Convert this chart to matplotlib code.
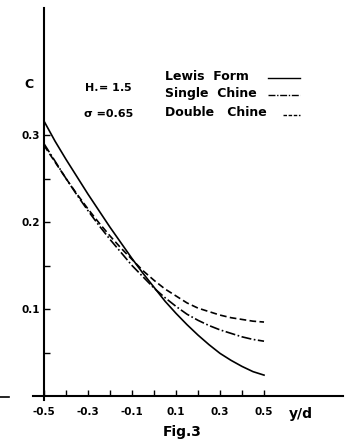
import matplotlib
matplotlib.use("Agg")
import matplotlib.pyplot as plt
from matplotlib.lines import Line2D

x_vals = [-0.5, -0.45, -0.4, -0.35, -0.3, -0.25, -0.2, -0.15, -0.1, -0.05, 0.0,
          0.05, 0.1, 0.15, 0.2, 0.25, 0.3, 0.35, 0.4, 0.45, 0.5]
lewis_form = [0.316, 0.293, 0.272, 0.252, 0.232, 0.213, 0.194, 0.176, 0.158, 0.141, 0.125,
              0.109, 0.095, 0.082, 0.070, 0.059, 0.049, 0.041, 0.034, 0.028, 0.024]
single_chine = [0.290, 0.270, 0.250, 0.231, 0.213, 0.196, 0.180, 0.165, 0.150, 0.137, 0.124,
                0.113, 0.103, 0.094, 0.087, 0.081, 0.076, 0.072, 0.068, 0.065, 0.063]
double_chine = [0.288, 0.269, 0.250, 0.232, 0.215, 0.199, 0.184, 0.170, 0.157, 0.144, 0.133,
                0.123, 0.115, 0.107, 0.101, 0.097, 0.093, 0.090, 0.088, 0.086, 0.085]

x_major = [-0.5, -0.3, -0.1, 0.1, 0.3, 0.5]
x_major_labels = ["-0.5", "-0.3", "-0.1", "0.1", "0.3", "0.5"]
x_minor = [-0.4, -0.2, 0.0, 0.2, 0.4]
y_major = [0.1, 0.2, 0.3]
y_major_labels = ["0.1", "0.2", "0.3"]
y_minor = [0.05, 0.15, 0.25]

W, H = 355, 447
fig = plt.figure(figsize=(W / 100, H / 100), dpi=100)
ax = fig.add_axes([33 / W, 47 / H, (343 - 33) / W, (400 - 8) / H])

ax.set_xlim(-0.55, 0.859)
ax.set_ylim(-0.0046, 0.446)

lw = 1.2
ax.plot(x_vals, lewis_form, color="black", lw=lw)
ax.plot(x_vals, single_chine, color="black", lw=lw, dashes=(6, 1.5, 1, 1.5))
ax.plot(x_vals, double_chine, color="black", lw=lw, dashes=(4, 2))

for s in ["top", "right"]:
    ax.spines[s].set_visible(False)
ax.spines["left"].set_position(("data", -0.5))
ax.spines["bottom"].set_position(("data", 0.0))
ax.spines["left"].set_linewidth(1.5)
ax.spines["bottom"].set_linewidth(1.5)

ax.set_xticks(x_major)
ax.set_xticklabels(x_major_labels)
ax.set_xticks(x_minor, minor=True)
ax.set_yticks(y_major)
ax.set_yticklabels(y_major_labels)
ax.set_yticks(y_minor, minor=True)
ax.tick_params(axis="both", which="both", direction="in", width=1.0,
               labelsize=7.5, length=4)
ax.tick_params(axis="x", pad=8)
ax.tick_params(axis="y", pad=3)
for lab in ax.get_xticklabels() + ax.get_yticklabels():
    lab.set_fontweight("bold")

# annotations
fig.text(29 / W, 1 - 85 / H, "C", ha="center", va="center", fontsize=9, fontweight="bold")
fig.text(84 / W, 1 - 87 / H, r"H$_{\bullet}$= 1.5", ha="left", va="center",
         fontsize=8, fontweight="bold")
fig.text(84 / W, 1 - 114 / H, "σ =0.65", ha="left", va="center",
         fontsize=8, fontweight="bold")

labels = ["Lewis  Form", "Single  Chine", "Double   Chine"]
ys = [76, 93, 113]
styles = [dict(), dict(dashes=(5, 1.2, 1, 1.2)), dict(dashes=(2.5, 1.2))]
ends = [(268, 300), (268, 300), (283, 300)]
for lab, yy, st, (x0, x1) in zip(labels, ys, styles, ends):
    fig.text(165 / W, 1 - yy / H, lab, ha="left", va="center", fontsize=9,
             fontweight="bold")
    fig.add_artist(Line2D([x0 / W, x1 / W], [1 - (yy + 2) / H, 1 - (yy + 2) / H],
                          color="black", lw=1.0, **st))

fig.text(289 / W, 1 - 414 / H, "y/d", ha="left", va="center", fontsize=10,
         fontweight="bold")
fig.text(182 / W, 1 - 432 / H, "Fig.3", ha="center", va="center", fontsize=10,
         fontweight="bold")

# stray mark at the left of the x axis
fig.add_artist(Line2D([0 / W, 9 / W], [1 - 397 / H, 1 - 397 / H], color="black", lw=1.2))

fig.savefig("out.png", dpi=100)
